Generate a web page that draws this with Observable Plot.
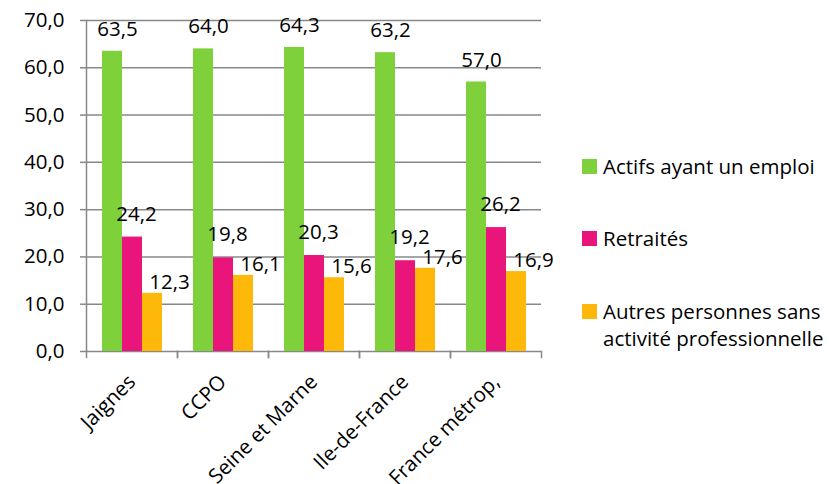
<!DOCTYPE html>
<html><head><meta charset="utf-8">
<script src="https://cdn.jsdelivr.net/npm/d3@7"></script>
<script src="https://cdn.jsdelivr.net/npm/@observablehq/plot@0.6"></script>
<style>
body{margin:0;background:#fff;font-family:"Open Sans",sans-serif;color:#000;}
#wrap{position:relative;width:829px;height:484px;overflow:hidden;}
#chart{position:absolute;left:0;top:0;}
.sw{position:absolute;width:15px;height:15px;}
.lt{position:absolute;font-size:20.5px;line-height:27px;white-space:nowrap;}
</style></head><body>
<div id="wrap"><div id="chart"></div><div id="legend"></div></div>
<script>
const categories = ["Jaignes", "CCPO", "Seine et Marne", "Ile-de-France", "France métrop,"];
const series = ["Actifs ayant un emploi", "Retraités", "Autres personnes sans activité professionnelle"];
const legendLines = [["Actifs ayant un emploi"], ["Retraités"], ["Autres personnes sans", "activité professionnelle"]];
const actifs = [63.5, 64.0, 64.3, 63.2, 57.0];
const retraites = [24.2, 19.8, 20.3, 19.2, 26.2];
const autres = [12.3, 16.1, 15.6, 17.6, 16.9];
const colors = ["#7FD13B", "#EA157A", "#FEB80A"];
const yTicks = [0, 10, 20, 30, 40, 50, 60, 70];

const values = [actifs, retraites, autres];
const rows = categories.flatMap((c, i) => series.map((s, k) => ({cat: c, ser: s, v: values[k][i]})));
const fmt = v => v.toFixed(1).replace(".", ",");

const W = 560, H = 484, mL = 85, mR = 18, mT = 20, mB = 133;
const plotH = H - mT - mB;
const grey = "#888888";
const fs = 20.5;
const labelOffsets = [[5, -22], [4, -23], [17, -11]];

const chart = Plot.plot({
  width: W, height: H,
  marginLeft: mL, marginRight: mR, marginTop: mT, marginBottom: mB,
  style: {fontFamily: "'Open Sans', sans-serif", fontSize: fs + "px", color: "#000", background: "#fff", overflow: "visible"},
  fx: {domain: categories, padding: 0, label: null, axis: null},
  x: {domain: series, paddingInner: 0, paddingOuter: 0.75, axis: null},
  y: {domain: [0, 70], label: null, axis: null},
  color: {domain: series, range: colors},
  marks: [
    Plot.ruleY(yTicks, {stroke: grey, strokeWidth: 1.5}),
    Plot.frame({anchor: "left", stroke: grey, strokeWidth: 1.5, insetTop: plotH, insetBottom: -6}),
    Plot.frame({anchor: "right", stroke: grey, strokeWidth: 1.5, insetTop: plotH, insetBottom: -6}),
    Plot.frame({anchor: "left", stroke: grey, strokeWidth: 1.5, fx: () => categories[0]}),
    Plot.axisY({ticks: yTicks, tickSize: 6, tickPadding: 16, tickFormat: fmt, stroke: grey, strokeWidth: 1.5, strokeOpacity: 1, label: null, fontSize: fs}),
    Plot.axisFx({anchor: "bottom", tickRotate: -45, tickSize: 0, tickPadding: 27, label: null, fontSize: fs}),
    Plot.barY(rows, {fx: "cat", x: "ser", y: "v", fill: "ser"}),
    ...series.map((s, k) => Plot.text(rows.filter(d => d.ser === s), {
      fx: "cat", x: "ser", y: "v", text: d => fmt(d.v),
      dx: labelOffsets[k][0], dy: labelOffsets[k][1], fontSize: fs, fill: "#000"
    }))
  ]
});
document.getElementById("chart").appendChild(chart);

// legend
const legend = document.getElementById("legend");
const swatchTops = [159, 231, 304];
series.forEach((s, k) => {
  const sw = document.createElement("div");
  sw.className = "sw";
  sw.style.left = "582px";
  sw.style.top = swatchTops[k] + "px";
  sw.style.background = colors[k];
  legend.appendChild(sw);
  const t = document.createElement("div");
  t.className = "lt";
  t.style.left = "603px";
  t.style.top = (swatchTops[k] + 7.5 - 13.5) + "px";
  t.innerHTML = legendLines[k].join("<br>");
  legend.appendChild(t);
});
</script>
</body></html>
